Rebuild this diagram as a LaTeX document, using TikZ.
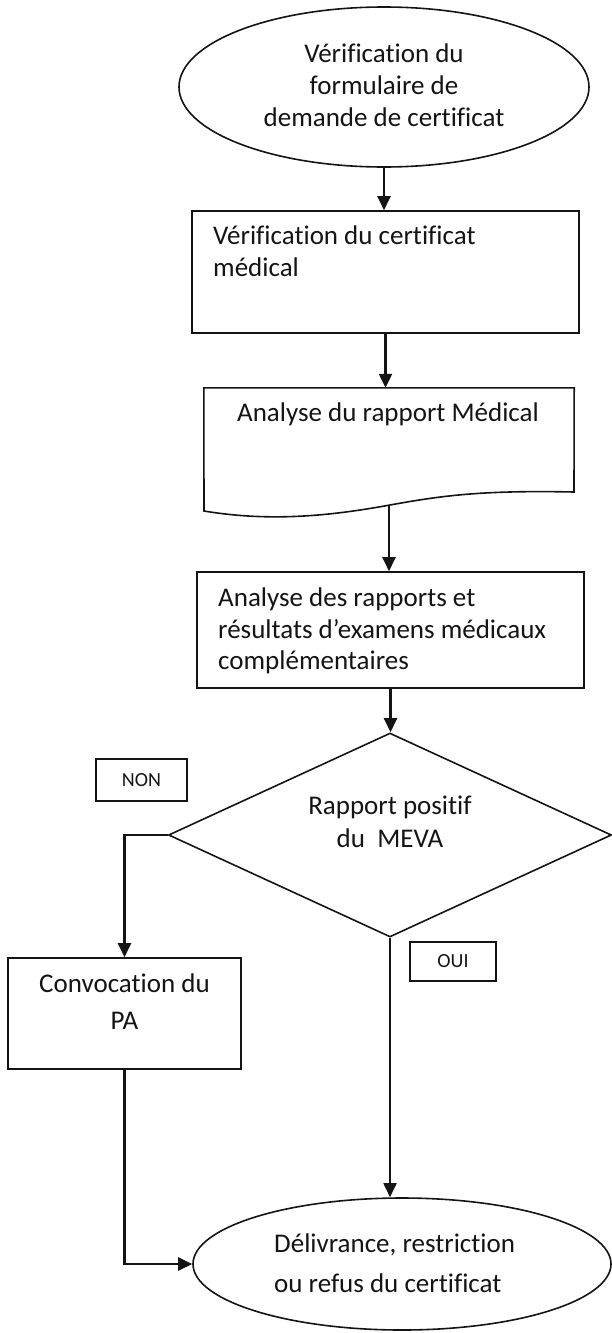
\documentclass[tikz,border=0pt]{standalone}
\usepackage{fontspec}
\setmainfont{Carlito}[Ligatures=NoCommon]
\usetikzlibrary{arrows.meta,shapes.geometric,calc}
\definecolor{ink}{RGB}{20,20,20}
\begin{document}
\begin{tikzpicture}[x=1pt,y=-1pt,
  shapeline/.style={draw=ink, line width=1.6pt},
  txt/.style={inner sep=0pt, text=ink, font=\fontsize{27}{32}\selectfont},
  smalltxt/.style={text=ink, font=\fontsize{20}{22}\selectfont},
  conn/.style={draw=ink, line width=2.3pt, -{Triangle[length=14pt,width=13pt]}},
  ]
\useasboundingbox (0,0) rectangle (612,1333);

% start ellipse
\node[shapeline, ellipse, minimum width=410pt, minimum height=160pt, inner sep=0pt] (e1) at (384,87) {};
\node[txt, align=center, anchor=north] (t1) at (384,44) {Vérification du\\formulaire de\\demande de certificat};

% box 2
\node[shapeline, rectangle, minimum width=387pt, minimum height=122pt, inner sep=0pt] (b2) at (385.5,272) {};
\node[txt, align=left, anchor=north west] (t2) at (213,226) {Vérification du certificat\\médical};

% document shape
\node[inner sep=0pt, minimum width=370pt, minimum height=123pt] (b3) at (389,449.5) {};
\draw[shapeline] (b3.north west) -- (b3.north east) -- (574,492)
  .. controls (480,490) and (440,496) .. (390,505)
  .. controls (330,516) and (270,522) .. (204,511) -- cycle;
\node[txt, anchor=north] (t3) at (388,403) {Analyse du rapport Médical};
\coordinate (b3s) at (389,506);

% box 4
\node[shapeline, rectangle, minimum width=387pt, minimum height=116pt, inner sep=0pt] (b4) at (390.5,630) {};
\node[txt, align=left, anchor=north west, font=\fontsize{27}{31.5}\selectfont] (t4) at (218,588) {Analyse des rapports et\\résultats d’examens médicaux\\complémentaires};

% decision
\node[shapeline, diamond, minimum width=443pt, minimum height=204pt, inner sep=0pt] (d) at (390,835) {};
\node[txt, align=center, anchor=north, font=\fontsize{27}{33}\selectfont] (td) at (390,796) {Rapport positif\\du~~MEVA};

% labels
\node[shapeline, line width=1.4pt, smalltxt, minimum width=91pt, minimum height=42pt, inner sep=0pt] (non) at (141.5,780) {NON};
\node[shapeline, line width=1.4pt, smalltxt, minimum width=86pt, minimum height=39pt, inner sep=0pt] (oui) at (453,961.5) {OUI};

% convocation box
\node[shapeline, rectangle, minimum width=233pt, minimum height=111pt, inner sep=0pt] (b5) at (124.5,1013.5) {};
\node[txt, align=center, anchor=north, font=\fontsize{27}{37}\selectfont] (t5) at (124.5,974) {Convocation du\\PA};

% end ellipse
\node[shapeline, ellipse, minimum width=418pt, minimum height=132pt, inner sep=0pt] (e2) at (402,1264) {};
\node[txt, align=left, anchor=north west, font=\fontsize{27}{40}\selectfont] (t6) at (274,1234) {Délivrance, restriction\\ou refus du certificat};

% connectors
\draw[conn] (e1.south) -- (e1.south |- b2.north);
\draw[conn] (b2.south) -- (b2.south |- b3.north);
\draw[conn] (b3s) -- (b3s |- b4.north);
\draw[conn] (b4.south) -- (b4.south |- d.north);
\draw[conn] (d.west) -| (b5.north);
\draw[conn, line width=1.8pt] (d.south) -- (d.south |- e2.north);
\draw[conn] (b5.south) |- (e2.west);
\end{tikzpicture}
\end{document}
